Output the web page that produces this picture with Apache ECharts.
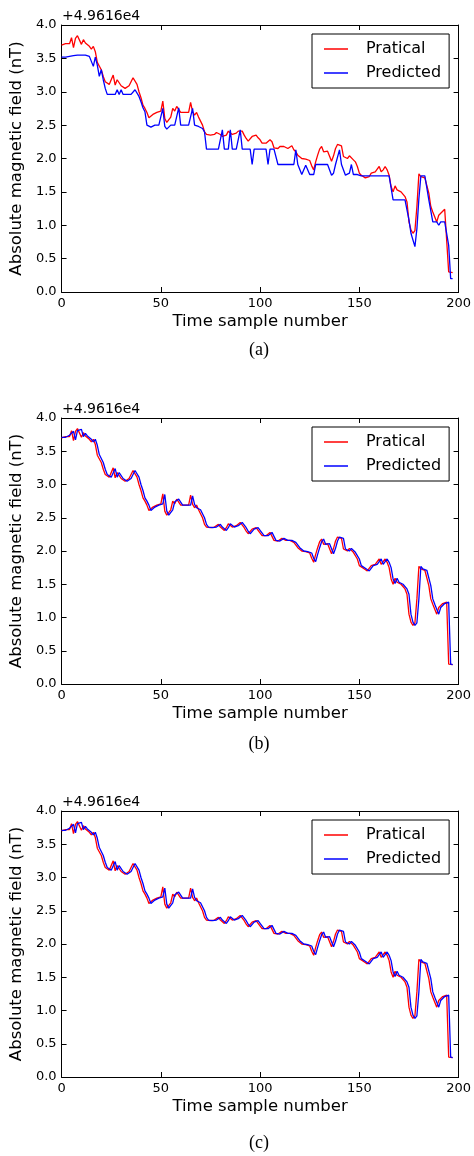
<!DOCTYPE html>
<html>
<head>
<meta charset="utf-8">
<script src="https://cdn.jsdelivr.net/npm/echarts@6/dist/echarts.min.js"></script>
<style>
html,body{margin:0;padding:0;background:#fff;}
#main{width:474px;height:1156px;}
</style>
</head>
<body>
<div id="main"></div>
<script>
// axis texts
var offsetText = '+4.9616e4';
var xName = 'Time sample number';
var yName = 'Absolute magnetic field (nT)';
var seriesNames = ['Pratical', 'Predicted'];
var captions = ['(a)', '(b)', '(c)'];

// values are shown relative to 4.9616e4, like the original axis
var practical = [
    3.70,3.71,3.72,3.74,3.72,3.81,3.66,3.80,3.84,3.83,
    3.71,3.78,3.73,3.71,3.68,3.64,3.68,3.60,3.44,3.43,
    3.33,3.23,3.15,3.13,3.11,3.13,3.25,3.10,3.18,3.20,
    3.09,3.08,3.05,3.06,3.09,3.15,3.21,3.23,3.11,3.00,
    2.91,2.80,2.75,2.69,2.61,2.59,2.66,2.68,2.69,2.69,
    2.71,2.86,2.60,2.54,2.55,2.62,2.75,2.71,2.78,2.80,
    2.69,2.69,2.69,2.68,2.69,2.84,2.70,2.65,2.69,2.62,
    2.61,2.50,2.40,2.36,2.34,2.35,2.34,2.36,2.39,2.40,
    2.36,2.33,2.31,2.35,2.41,2.43,2.36,2.35,2.38,2.41,
    2.43,2.41,2.35,2.30,2.26,2.28,2.33,2.35,2.35,2.31,
    2.28,2.23,2.25,2.23,2.24,2.28,2.25,2.16,2.15,2.15,
    2.18,2.19,2.18,2.16,2.15,2.16,2.19,2.13,2.10,2.05,
    2.03,2.00,1.98,1.99,2.00,1.97,1.89,1.83,1.95,2.05,
    2.14,2.18,2.10,2.10,2.11,2.13,1.96,2.04,2.15,2.21,
    2.23,2.19,2.03,2.01,2.00,2.04,2.03,1.98,1.95,1.88,
    1.78,1.75,1.74,1.71,1.70,1.73,1.78,1.80,1.80,1.84,
    1.88,1.80,1.83,1.88,1.83,1.75,1.58,1.50,1.59,1.53,
    1.55,1.50,1.48,1.43,1.35,1.05,0.93,0.88,0.92,1.28,
    1.77,1.73,1.71,1.71,1.69,1.48,1.28,1.20,1.18,1.05,
    1.15,1.15,1.21,1.24,1.23,0.30,0.29,0.29
];

var predictedA = [
    3.52,3.52,3.52,3.52,3.53,3.53,3.54,3.55,3.55,3.56,
    3.55,3.56,3.55,3.55,3.53,3.53,3.38,3.52,3.40,3.23,
    3.33,3.18,3.05,2.96,2.96,2.96,2.96,2.96,3.03,2.96,
    3.03,2.96,2.96,2.96,2.96,2.96,2.96,3.03,3.02,2.93,
    2.85,2.76,2.70,2.50,2.50,2.47,2.48,2.50,2.50,2.50,
    2.50,2.75,2.48,2.44,2.46,2.50,2.50,2.50,2.50,2.76,
    2.50,2.50,2.50,2.50,2.50,2.50,2.75,2.50,2.50,2.48,
    2.47,2.45,2.40,2.14,2.14,2.14,2.14,2.14,2.14,2.14,
    2.14,2.43,2.14,2.14,2.14,2.43,2.14,2.14,2.14,2.14,
    2.43,2.14,2.14,2.14,2.14,2.14,1.91,2.14,2.14,2.14,
    2.14,2.14,2.14,2.14,1.91,2.14,2.14,2.14,2.14,1.91,
    1.91,1.91,1.91,1.91,1.91,1.91,1.91,1.91,2.13,1.91,
    1.91,1.76,1.76,1.90,1.91,1.76,1.75,1.76,1.91,1.91,
    1.91,1.91,1.91,1.91,1.91,1.91,1.75,1.78,1.91,1.91,
    2.13,1.91,1.91,1.75,1.76,1.78,1.91,1.76,1.76,1.76,
    1.76,1.74,1.74,1.74,1.74,1.74,1.74,1.74,1.74,1.74,
    1.74,1.74,1.74,1.74,1.74,1.74,1.74,1.38,1.38,1.38,
    1.38,1.38,1.38,1.38,1.38,1.08,0.88,0.87,0.68,0.95,
    1.40,1.74,1.74,1.74,1.74,1.38,1.38,1.05,1.05,1.05,
    1.00,1.05,1.05,1.05,1.05,0.70,0.20,0.20
];

var predictedB = [
    3.71,3.70,3.71,3.72,3.74,3.72,3.80,3.67,3.81,3.84,
    3.83,3.72,3.77,3.73,3.71,3.68,3.64,3.68,3.59,3.45,
    3.42,3.33,3.23,3.15,3.13,3.11,3.13,3.24,3.11,3.18,
    3.19,3.09,3.08,3.05,3.06,3.09,3.15,3.21,3.23,3.11,
    3.00,2.91,2.80,2.75,2.69,2.61,2.59,2.66,2.68,2.69,
    2.69,2.71,2.85,2.60,2.54,2.55,2.62,2.74,2.71,2.78,
    2.79,2.69,2.69,2.69,2.68,2.69,2.83,2.70,2.65,2.68,
    2.62,2.61,2.50,2.40,2.36,2.34,2.35,2.34,2.36,2.39,
    2.40,2.36,2.33,2.31,2.35,2.41,2.43,2.36,2.35,2.38,
    2.41,2.43,2.41,2.35,2.30,2.26,2.28,2.33,2.35,2.35,
    2.31,2.28,2.23,2.25,2.23,2.24,2.28,2.25,2.16,2.15,
    2.15,2.18,2.19,2.18,2.16,2.15,2.16,2.19,2.13,2.10,
    2.05,2.03,2.00,1.98,1.99,2.00,1.97,1.89,1.84,1.95,
    2.05,2.14,2.18,2.10,2.10,2.11,2.13,1.96,2.04,2.15,
    2.21,2.23,2.19,2.03,2.01,2.00,2.04,2.03,1.98,1.95,
    1.88,1.78,1.75,1.74,1.71,1.70,1.73,1.78,1.80,1.80,
    1.84,1.88,1.80,1.83,1.88,1.83,1.75,1.58,1.51,1.59,
    1.53,1.55,1.50,1.48,1.43,1.35,1.05,0.93,0.88,0.92,
    1.28,1.77,1.73,1.71,1.71,1.69,1.48,1.28,1.20,1.18,
    1.05,1.15,1.15,1.21,1.24,1.23,0.30,0.29
];

var predictedC = [
    3.71,3.70,3.71,3.72,3.74,3.72,3.80,3.67,3.81,3.84,
    3.83,3.72,3.77,3.73,3.71,3.68,3.64,3.68,3.59,3.45,
    3.42,3.33,3.23,3.15,3.13,3.11,3.13,3.24,3.11,3.18,
    3.19,3.09,3.08,3.05,3.06,3.09,3.15,3.21,3.23,3.11,
    3.00,2.91,2.80,2.75,2.69,2.61,2.59,2.66,2.68,2.69,
    2.69,2.71,2.84,2.60,2.54,2.55,2.62,2.74,2.71,2.78,
    2.79,2.69,2.69,2.69,2.68,2.69,2.83,2.70,2.65,2.68,
    2.62,2.61,2.50,2.40,2.36,2.34,2.35,2.34,2.36,2.39,
    2.40,2.36,2.33,2.31,2.35,2.41,2.43,2.36,2.35,2.38,
    2.41,2.43,2.41,2.35,2.30,2.26,2.28,2.33,2.35,2.35,
    2.31,2.28,2.23,2.25,2.23,2.24,2.28,2.25,2.16,2.15,
    2.15,2.18,2.19,2.18,2.16,2.15,2.16,2.19,2.13,2.10,
    2.05,2.03,2.00,1.98,1.99,2.00,1.97,1.89,1.84,1.95,
    2.05,2.14,2.18,2.10,2.10,2.11,2.13,1.96,2.04,2.15,
    2.21,2.23,2.19,2.03,2.01,2.00,2.04,2.03,1.98,1.95,
    1.88,1.78,1.75,1.74,1.71,1.70,1.73,1.78,1.80,1.80,
    1.84,1.88,1.80,1.83,1.88,1.83,1.75,1.58,1.51,1.59,
    1.53,1.55,1.50,1.48,1.43,1.35,1.05,0.93,0.88,0.92,
    1.28,1.77,1.73,1.71,1.71,1.69,1.48,1.28,1.20,1.18,
    1.05,1.15,1.15,1.21,1.24,1.23,0.30,0.29
];

var xMin = 0, xMax = 200, xStep = 50;
var yMin = 0, yMax = 4, yStep = 0.5;

// layout of the three stacked panels
var panelTop = [25, 418, 811];
var panelHeight = [267, 266, 266];
var captionY = [350, 744, 1143];
var FONT = 'DejaVu Sans';

function toPoints(arr) {
    var pts = [];
    for (var i = 0; i < arr.length; i++) {
        pts.push([i, arr[i]]);
    }
    return pts;
}

var predictedList = [predictedA, predictedB, predictedC];

var myChart = echarts.init(document.getElementById('main'), null, {renderer: 'canvas'});

var grids = [], xAxes = [], yAxes = [], series = [], legends = [], graphics = [];

for (var k = 0; k < 3; k++) {
    grids.push({left: 61, top: panelTop[k], width: 399, height: panelHeight[k], containLabel: false});

    var tick = {show: true, inside: true, length: 5, lineStyle: {color: '#000', width: 1}};
    var line = {show: true, onZero: false, lineStyle: {color: '#000', width: 1}};

    xAxes.push({
        gridIndex: k, type: 'value', position: 'bottom',
        min: xMin, max: xMax, interval: xStep,
        axisLine: line, axisTick: tick, splitLine: {show: false},
        axisLabel: {color: '#000', fontSize: 13, fontFamily: FONT, margin: 5, showMinLabel: true, showMaxLabel: true},
        name: xName, nameLocation: 'middle', nameGap: 21,
        nameTextStyle: {color: '#000', fontSize: 16.5, fontFamily: FONT}
    });
    xAxes.push({
        gridIndex: k, type: 'value', position: 'top',
        min: xMin, max: xMax, interval: xStep,
        axisLine: line, axisTick: tick, splitLine: {show: false},
        axisLabel: {show: false}
    });

    yAxes.push({
        gridIndex: k, type: 'value', position: 'left',
        min: yMin, max: yMax, interval: yStep,
        axisLine: line, axisTick: tick, splitLine: {show: false},
        axisLabel: {
            color: '#000', fontSize: 13, fontFamily: FONT, margin: 5,
            showMinLabel: true, showMaxLabel: true,
            formatter: function (v) { return v.toFixed(1); }
        },
        name: yName, nameLocation: 'middle', nameGap: 32,
        nameTextStyle: {color: '#000', fontSize: 16.5, fontFamily: FONT}
    });
    yAxes.push({
        gridIndex: k, type: 'value', position: 'right',
        min: yMin, max: yMax, interval: yStep,
        axisLine: line, axisTick: tick, splitLine: {show: false},
        axisLabel: {show: false}
    });

    series.push({
        name: seriesNames[0], type: 'line', xAxisIndex: k * 2, yAxisIndex: k * 2,
        data: toPoints(practical), symbol: 'none', showSymbol: false,
        lineStyle: {color: '#ff0000', width: 1.3}, itemStyle: {color: '#ff0000'},
        z: 2
    });
    series.push({
        name: seriesNames[1], type: 'line', xAxisIndex: k * 2, yAxisIndex: k * 2,
        data: toPoints(predictedList[k]), symbol: 'none', showSymbol: false,
        lineStyle: {color: '#0000ff', width: 1.3}, itemStyle: {color: '#0000ff'},
        z: 3
    });

    // legend with plain short line icons
    legends.push({
        orient: 'vertical', left: 312, top: panelTop[k] + 9,
        data: seriesNames, icon: 'rect', itemWidth: 24, itemHeight: 1.5, itemGap: 6,
        padding: [6, 8, 6, 12], borderColor: '#000', borderWidth: 1, borderRadius: 0,
        backgroundColor: '#fff', selectedMode: false,
        textStyle: {color: '#000', fontSize: 16, fontFamily: FONT, padding: [0, 0, 0, 13], lineHeight: 18}
    });

    // offset text above the y axis, like matplotlib
    graphics.push({
        type: 'text', left: 62, top: panelTop[k] - 16,
        style: {text: offsetText, fill: '#000', font: '14px "DejaVu Sans"'}
    });
    // sub-figure caption
    graphics.push({
        type: 'text', x: 259, y: captionY[k],
        style: {
            text: captions[k], fill: '#000', font: '18px "Liberation Serif"',
            align: 'center', verticalAlign: 'middle',
            textAlign: 'center', textVerticalAlign: 'middle'
        }
    });
}

var option = {
    animation: false,
    backgroundColor: '#fff',
    grid: grids,
    xAxis: xAxes,
    yAxis: yAxes,
    legend: legends,
    series: series,
    graphic: graphics
};

myChart.setOption(option);
</script>
</body>
</html>
